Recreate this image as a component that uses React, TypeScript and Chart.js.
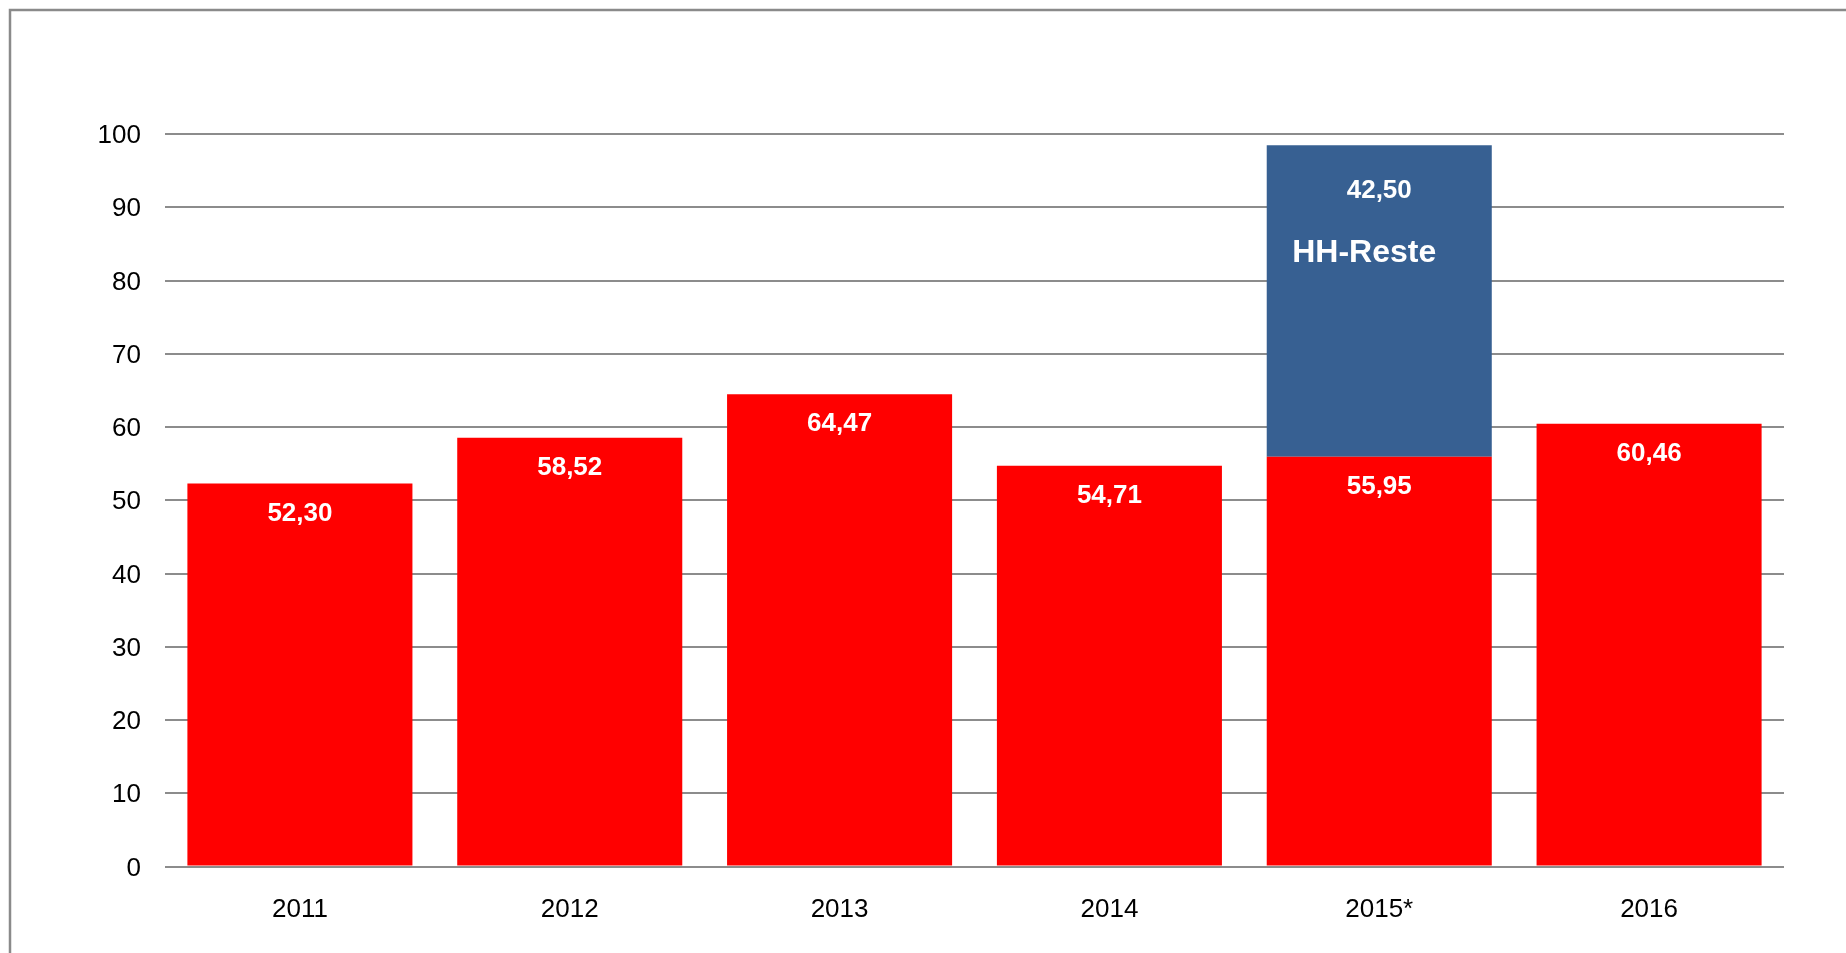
import React, { useEffect, useRef } from "react";
import { Chart, registerables } from "chart.js";

Chart.register(...registerables);

const categories = ["2011", "2012", "2013", "2014", "2015*", "2016"];
const baseValues = [52.30, 58.52, 64.47, 54.71, 55.95, 60.46];
const resteValues = [null, null, null, null, 42.50, null];
const resteLabel = "HH-Reste";
const yTicks = [0, 10, 20, 30, 40, 50, 60, 70, 80, 90, 100];

const FONT = "'Liberation Sans', Arial, sans-serif";
const fmt = (v: number) => v.toFixed(2).replace(".", ",");

const framePlugin = {
  id: "frame",
  beforeDraw(chart: any) {
    const ctx = chart.ctx;
    ctx.save();
    ctx.fillStyle = "#ffffff";
    ctx.fillRect(0, 0, chart.width, chart.height);
    ctx.strokeStyle = "#8a8a8a";
    ctx.lineWidth = 2.5;
    ctx.beginPath();
    ctx.moveTo(10, chart.height + 5);
    ctx.lineTo(10, 10);
    ctx.lineTo(chart.width + 5, 10);
    ctx.stroke();
    ctx.restore();
  },
};

const labelPlugin = {
  id: "barLabels",
  afterDatasetsDraw(chart: any) {
    const ctx = chart.ctx;
    ctx.save();
    ctx.fillStyle = "#ffffff";
    ctx.textAlign = "center";
    ctx.textBaseline = "middle";
    chart.data.datasets.forEach((ds: any, di: number) => {
      const meta = chart.getDatasetMeta(di);
      meta.data.forEach((el: any, i: number) => {
        const v = ds.data[i];
        if (v === null || v === undefined) return;
        ctx.font = `bold 26px ${FONT}`;
        if (di === 0) {
          ctx.fillText(fmt(v), el.x, el.y + 30);
        } else {
          ctx.fillText(fmt(v), el.x, el.y + 45);
          ctx.font = `bold 32px ${FONT}`;
          ctx.fillText(resteLabel, el.x - 15, el.y + 108);
        }
      });
    });
    ctx.restore();
  },
};

export default function App() {
  const ref = useRef<HTMLCanvasElement | null>(null);
  useEffect(() => {
    if (!ref.current) return;
    const chart = new Chart(ref.current, {
      type: "bar",
      data: {
        labels: categories,
        datasets: [
          {
            label: "Basis",
            data: baseValues,
            backgroundColor: "#ff0000",
            barPercentage: 1,
            categoryPercentage: 0.834,
          },
          {
            label: resteLabel,
            data: resteValues as any,
            backgroundColor: "#376092",
            barPercentage: 1,
            categoryPercentage: 0.834,
          },
        ],
      },
      options: {
        animation: false,
        responsive: false,
        maintainAspectRatio: false,
        layout: { padding: { left: 0, top: 134, right: 62, bottom: 0 } },
        plugins: {
          legend: { display: false },
          tooltip: { enabled: false },
        },
        scales: {
          x: {
            stacked: true,
            grid: { display: false, drawTicks: false },
            border: { display: false },
            ticks: {
              color: "#000000",
              font: { family: FONT, size: 26 },
              padding: 28,
            },
            afterFit(scale: any) {
              scale.height = 953 - 866.5;
            },
          },
          y: {
            stacked: true,
            min: 0,
            max: 100,
            afterBuildTicks(scale: any) {
              scale.ticks = yTicks.map((v) => ({ value: v }));
            },
            grid: { color: "#8c8c8c", lineWidth: 2, drawTicks: false },
            border: { display: false },
            ticks: {
              color: "#000000",
              font: { family: FONT, size: 26 },
              padding: 24,
              labelOffset: 2,
            },
            afterFit(scale: any) {
              scale.width = 165;
            },
          },
        },
      },
      plugins: [framePlugin, labelPlugin],
    });
    return () => chart.destroy();
  }, []);
  return (
    <div style={{ position: "fixed", left: 0, top: 0, width: 1846, height: 953, background: "#fff" }}>
      <canvas ref={ref} width={1846} height={953} style={{ width: 1846, height: 953, display: "block" }} />
    </div>
  );
}
